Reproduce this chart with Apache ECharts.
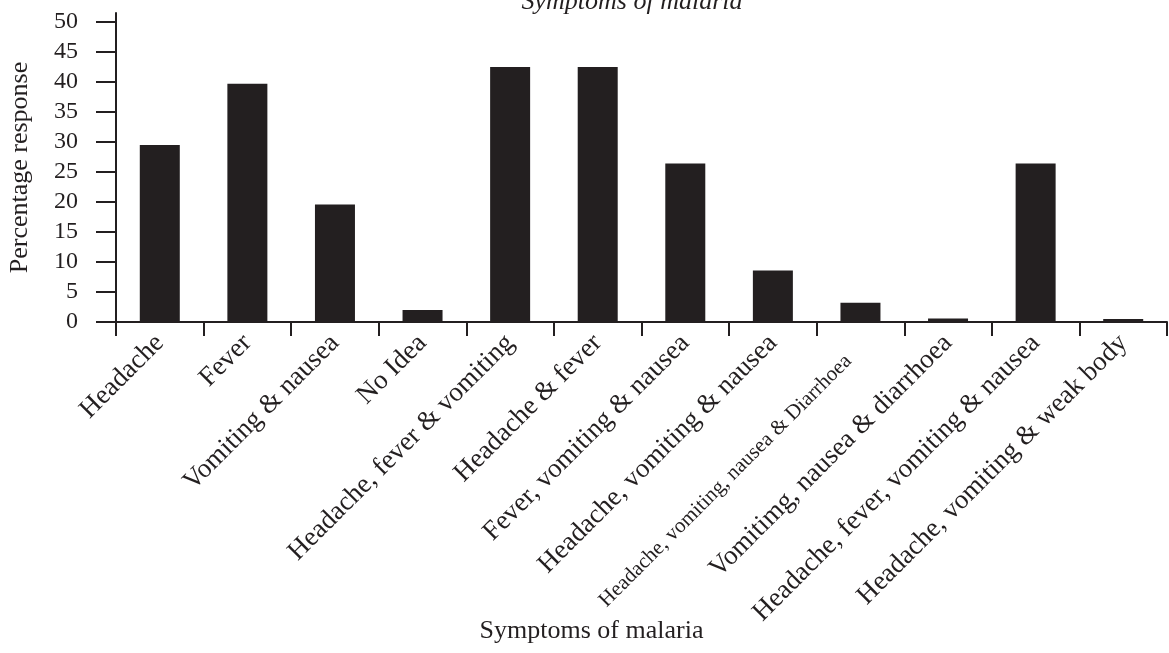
<!DOCTYPE html>
<html>
<head>
<meta charset="utf-8">
<script src="https://cdn.jsdelivr.net/npm/echarts@6/dist/echarts.min.js"></script>
<style>
html,body{margin:0;padding:0;background:#fff;}
#chart{width:1169px;height:653px;}
</style>
</head>
<body>
<div id="chart"></div>
<script>
const categories = [
  "Headache",
  "Fever",
  "Vomiting & nausea",
  "No Idea",
  "Headache, fever & vomiting",
  "Headache & fever",
  "Fever, vomiting & nausea",
  "Headache, vomiting & nausea",
  "Headache, vomiting, nausea & Diarrhoea",
  "Vomitimg, nausea & diarrhoea",
  "Headache, fever, vomiting & nausea",
  "Headache, vomiting & weak body"
];
const percentages = [29.5, 39.7, 19.6, 2.0, 42.5, 42.5, 26.4, 8.6, 3.2, 0.6, 26.4, 0.5];
const yTicks = [0, 5, 10, 15, 20, 25, 30, 35, 40, 45, 50];
const smallLabels = ["Headache, vomiting, nausea & Diarrhoea"];

const ink = '#231f20';
const serif = '"Liberation Serif", "DejaVu Serif", serif';

const chart = echarts.init(document.getElementById('chart'), null, {renderer: 'canvas'});
chart.setOption({
  animation: false,
  backgroundColor: '#ffffff',
  title: {
    text: 'Symptoms of malaria',
    left: 627,
    textAlign: 'center',
    top: -16,
    textStyle: {fontFamily: serif, fontStyle: 'italic', fontWeight: 'normal', fontSize: 26, color: ink}
  },
  grid: {left: 116, right: 2, top: 13, bottom: 331, containLabel: false, outerBoundsMode: 'none'},
  xAxis: {
    type: 'category',
    data: categories,
    boundaryGap: true,
    name: 'Symptoms of malaria',
    nameLocation: 'middle',
    nameGap: 296,
    nameMoveOverlap: false,
    nameTextStyle: {fontFamily: serif, fontSize: 26, color: ink, padding: [0, 100, 0, 0]},
    axisLine: {show: true, lineStyle: {color: ink, width: 2}},
    axisTick: {show: true, alignWithLabel: false, length: 14, inside: false, lineStyle: {color: ink, width: 2}},
    axisLabel: {
      interval: 0,
      rotate: 45,
      margin: 17,
      color: ink,
      fontFamily: serif,
      fontSize: 27,
      formatter: function (v) {
        return smallLabels.indexOf(v) >= 0 ? '{s|' + v + '}' : v;
      },
      rich: {
        s: {fontFamily: serif, fontSize: 21, color: ink, padding: [10, 22, 0, 0]}
      }
    }
  },
  yAxis: {
    type: 'value',
    min: 0,
    max: 51.5,
    name: 'Percentage response',
    nameLocation: 'middle',
    nameGap: 83,
    nameMoveOverlap: false,
    nameTextStyle: {fontFamily: serif, fontSize: 26, color: ink},
    splitLine: {show: false},
    axisLine: {show: true, lineStyle: {color: ink, width: 2}},
    axisTick: {show: true, length: 20, customValues: yTicks, lineStyle: {color: ink, width: 2}},
    axisLabel: {
      customValues: yTicks,
      margin: 38,
      color: ink,
      fontFamily: serif,
      fontSize: 24
    }
  },
  series: [{
    type: 'bar',
    data: percentages,
    barWidth: 40,
    itemStyle: {color: ink}
  }]
});
</script>
</body>
</html>
